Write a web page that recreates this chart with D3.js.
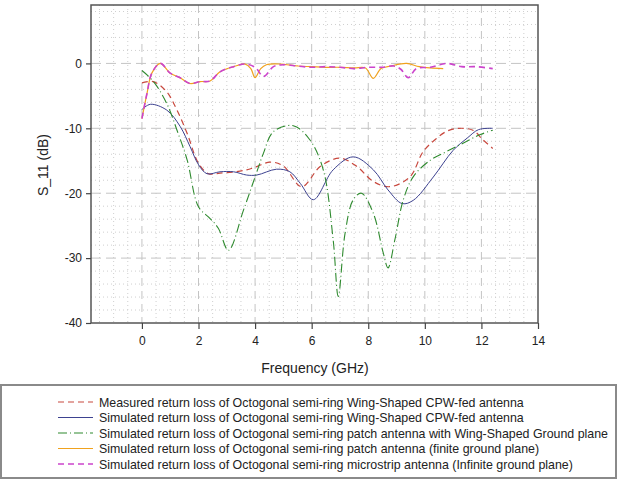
<!DOCTYPE html>
<html>
<head>
<meta charset="utf-8">
<script src="https://cdn.jsdelivr.net/npm/d3@7"></script>
<style>
  body { margin: 0; background: #fff; }
  svg { font-family: Arial, "Liberation Sans", sans-serif; }
</style>
</head>
<body>
<div id="chart"></div>
<script>
// frequency (GHz) / S11 (dB)
const measFreq = [0, 0.4, 0.88, 1.24, 1.6, 2.0, 2.35, 2.76, 3.3, 3.7, 4.06, 4.53, 5.0, 5.65, 6.3, 7.0, 7.6, 8.18, 8.76, 9.47, 9.94, 10.4, 10.8, 11.2, 11.7, 12.06, 12.4];
const measS11 = [-3.0, -2.8, -4.4, -7.2, -10.8, -15.4, -17.0, -16.9, -16.7, -16.4, -15.9, -15.2, -15.8, -19.0, -15.9, -14.6, -15.9, -18.2, -19.0, -17.5, -13.6, -11.6, -10.4, -10.0, -10.3, -11.8, -13.1];

const cpwFreq = [0, 0.3, 0.88, 1.35, 1.7, 2.0, 2.3, 2.76, 3.24, 3.7, 4.06, 4.76, 5.23, 5.6, 6.06, 6.76, 7.47, 8.18, 8.7, 9.2, 9.59, 10.3, 11.0, 11.5, 11.9, 12.4];
const cpwS11 = [-7.1, -6.3, -7.2, -9.7, -12.8, -15.6, -17.0, -16.7, -16.7, -17.2, -17.2, -16.3, -16.7, -18.5, -21.0, -16.4, -14.4, -16.4, -19.5, -21.6, -21.1, -17.5, -13.4, -11.5, -10.2, -10.0];

const wingFreq = [0, 0.41, 0.88, 1.24, 1.6, 2.0, 2.41, 2.7, 3.06, 3.59, 4.0, 4.29, 4.65, 5.35, 5.94, 6.41, 6.76, 6.94, 7.18, 7.47, 7.76, 8.18, 8.53, 8.7, 8.94, 9.24, 9.6, 10.2, 10.76, 11.35, 11.94, 12.4];
const wingS11 = [-1.1, -2.8, -6.2, -10.3, -14.9, -22.1, -23.9, -25.4, -28.8, -22.6, -17.5, -13.9, -10.5, -9.6, -11.8, -16.4, -27.2, -35.9, -26.2, -21.0, -20.0, -23.1, -29.2, -31.5, -27.2, -21.0, -17.4, -14.9, -13.6, -12.3, -11.0, -10.3];

const finiteFreq = [0, 0.18, 0.35, 0.65, 1.0, 1.35, 1.7, 2.06, 2.41, 2.76, 3.24, 3.65, 3.85, 4.0, 4.2, 4.4, 4.9, 5.5, 6.0, 6.5, 7.0, 7.5, 7.9, 8.18, 8.45, 8.8, 9.35, 9.8, 10.2, 10.65];
const finiteS11 = [-8.5, -4.6, -1.5, 0, -1.5, -2.2, -3.1, -2.8, -2.7, -1.3, -0.5, -0.1, -0.8, -2.2, -0.8, -0.2, -0.1, -0.4, -0.5, -0.6, -0.6, -0.7, -0.7, -2.3, -0.8, -0.4, 0, -0.5, -0.7, -0.8];

const infFreq = [0, 0.18, 0.35, 0.65, 1.0, 1.35, 1.7, 2.06, 2.41, 2.76, 3.24, 3.65, 4.0, 4.3, 4.65, 5.0, 5.5, 6.0, 6.5, 7.0, 7.5, 8.0, 8.5, 8.9, 9.15, 9.41, 9.7, 10.2, 10.76, 11.3, 11.8, 12.4];
const infS11 = [-8.5, -4.6, -1.5, 0, -1.5, -2.2, -3.1, -2.8, -2.7, -1.3, -0.5, -0.1, -0.6, -2.0, -0.5, -0.2, -0.4, -0.6, -0.5, -0.6, -0.8, -0.6, -0.6, -0.4, -0.9, -2.2, -0.8, -0.6, 0, -0.5, -0.5, -0.8];

const xTicks = [0, 2, 4, 6, 8, 10, 12, 14];
const yTicks = [-40, -30, -20, -10, 0];

const seriesNames = [
  'Measured return loss of Octogonal semi-ring Wing-Shaped CPW-fed antenna',
  'Simulated return loss of Octogonal semi-ring Wing-Shaped CPW-fed antenna',
  'Simulated return loss of Octogonal semi-ring patch antenna with Wing-Shaped Ground plane',
  'Simulated return loss of Octogonal semi-ring patch antenna (finite ground plane)',
  'Simulated return loss of Octogonal semi-ring microstrip antenna (Infinite ground plane)'
];

const styles = [
  { color: '#c8483e', width: 1.2, dash: '6,4' },
  { color: '#3d4290', width: 1, dash: null },
  { color: '#2f8a2f', width: 1.1, dash: '9,3,1,3' },
  { color: '#f0a21e', width: 1.2, dash: null },
  { color: '#cc44cc', width: 1.6, dash: '6,4' }
];

const series = [
  [measFreq, measS11],
  [cpwFreq, cpwS11],
  [wingFreq, wingS11],
  [finiteFreq, finiteS11],
  [infFreq, infS11]
];

const W = 617, H = 483;
const margin = { top: 5, right: 79, bottom: 160, left: 91 };
const width = W - margin.left - margin.right;
const height = H - margin.top - margin.bottom;

const svg = d3.select('#chart').append('svg')
  .attr('width', W)
  .attr('height', H);

const g = svg.append('g')
  .attr('transform', `translate(${margin.left},${margin.top})`);

const x = d3.scaleLinear().domain([-1.8, 14]).range([0, width]);
const y = d3.scaleLinear().domain([-40, 9]).range([height, 0]);

// minor grid
g.append('g').selectAll('line')
  .data(d3.range(-1.5, 14, 0.5).filter(v => v % 2 !== 0))
  .enter().append('line')
  .attr('x1', d => x(d)).attr('x2', d => x(d))
  .attr('y1', 0).attr('y2', height)
  .style('stroke', '#cfcfcf')
  .style('stroke-dasharray', '1,3');

g.append('g').selectAll('line')
  .data(d3.range(-38, 9, 2).filter(v => v % 10 !== 0))
  .enter().append('line')
  .attr('x1', 0).attr('x2', width)
  .attr('y1', d => y(d)).attr('y2', d => y(d))
  .style('stroke', '#cfcfcf')
  .style('stroke-dasharray', '1,3');

// major grid
g.append('g').selectAll('line')
  .data(xTicks.filter(v => v < 14))
  .enter().append('line')
  .attr('x1', d => x(d)).attr('x2', d => x(d))
  .attr('y1', 0).attr('y2', height)
  .style('stroke', '#c4c4c4')
  .style('stroke-dasharray', '8,5');

g.append('g').selectAll('line')
  .data(yTicks.filter(v => v > -40))
  .enter().append('line')
  .attr('x1', 0).attr('x2', width)
  .attr('y1', d => y(d)).attr('y2', d => y(d))
  .style('stroke', '#c4c4c4')
  .style('stroke-dasharray', '10,5');

// curves
const line = d3.line()
  .x(d => x(d[0]))
  .y(d => y(d[1]))
  .curve(d3.curveCatmullRom.alpha(0.5));

series.forEach((s, i) => {
  const pts = s[0].map((f, k) => [f, s[1][k]]);
  g.append('path')
    .datum(pts)
    .attr('d', line)
    .style('fill', 'none')
    .style('stroke', styles[i].color)
    .style('stroke-width', styles[i].width)
    .style('stroke-dasharray', styles[i].dash);
});

// frame
g.append('rect')
  .attr('width', width).attr('height', height)
  .style('fill', 'none')
  .style('stroke', '#555')
  .style('stroke-width', 1.5);

// axes
const xAxis = g.append('g')
  .attr('transform', `translate(0,${height})`)
  .call(d3.axisBottom(x).tickValues(xTicks).tickFormat(d => String(d)).tickSize(6).tickPadding(7));
const yAxis = g.append('g')
  .call(d3.axisLeft(y).tickValues(yTicks).tickFormat(d => String(d)).tickSize(5).tickPadding(4));

[xAxis, yAxis].forEach(a => {
  a.select('.domain').remove();
  a.selectAll('line').style('stroke', '#444').style('stroke-width', 1.2);
  a.selectAll('text').style('font-size', '12px').style('fill', '#222')
    .style('font-family', 'Arial, "Liberation Sans", sans-serif');
});

svg.append('text')
  .attr('x', 315).attr('y', 373)
  .attr('text-anchor', 'middle')
  .style('font-size', '14px')
  .style('fill', '#222')
  .text('Frequency (GHz)');

svg.append('text')
  .attr('transform', 'translate(48,165) rotate(-90)')
  .attr('text-anchor', 'middle')
  .style('font-size', '14px')
  .style('fill', '#222')
  .text('S_11 (dB)');

// legend
svg.append('rect')
  .attr('x', 1).attr('y', 385)
  .attr('width', W - 2).attr('height', 93)
  .style('fill', '#fff')
  .style('stroke', '#8a8a8a')
  .style('stroke-width', 2);

const legend = svg.selectAll('.legend')
  .data(seriesNames)
  .enter().append('g')
  .attr('class', 'legend')
  .attr('transform', (d, i) => `translate(0,${402 + i * 15.5})`);

legend.append('line')
  .attr('x1', 58).attr('x2', 93)
  .attr('y1', 0).attr('y2', 0)
  .style('stroke', (d, i) => styles[i].color)
  .style('stroke-width', (d, i) => styles[i].width)
  .style('stroke-dasharray', (d, i) => styles[i].dash);

legend.append('text')
  .attr('x', 99).attr('y', 4.5)
  .style('font-size', '12.4px')
  .style('fill', '#222')
  .text(d => d);
</script>
</body>
</html>
